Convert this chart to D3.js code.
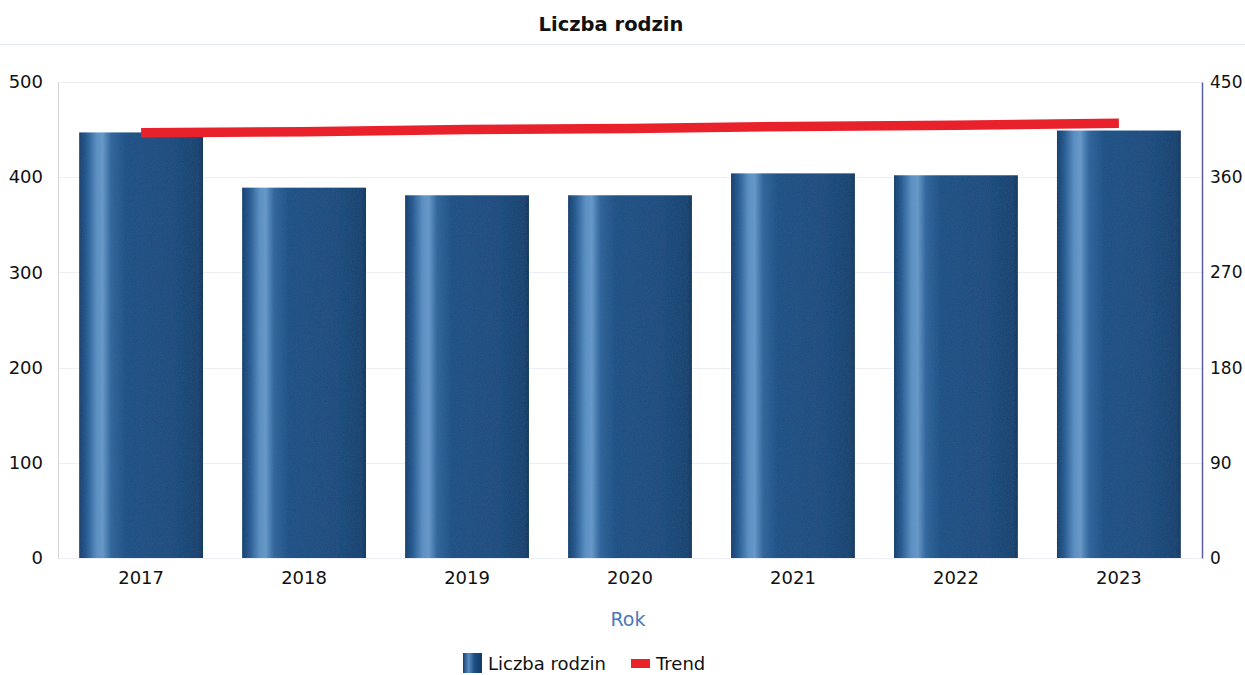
<!DOCTYPE html>
<html><head><meta charset="utf-8">
<script src="https://cdn.jsdelivr.net/npm/d3@7"></script>
<style>
html,body{margin:0;padding:0;background:#fff;overflow:hidden;}
svg{display:block;font-family:"DejaVu Sans",Verdana,sans-serif;}
</style></head>
<body><svg id="c" width="1245" height="675"></svg>
<script>
const years = ["2017","2018","2019","2020","2021","2022","2023"];
const families = [447, 389, 381, 381, 404, 402, 449];
const trend = [402, 403, 405, 406, 408, 409, 411];
const leftTicks = [0, 100, 200, 300, 400, 500];
const rightTicks = [0, 90, 180, 270, 360, 450];
const title = "Liczba rodzin";
const xTitle = "Rok";
const legendNames = ["Liczba rodzin", "Trend"];

const svg = d3.select("#c");
const W = 1245, H = 675;
const m = {l: 58, r: 43, t: 82, b: 117};
const x = d3.scaleBand().domain(years).range([m.l, W - m.r]).paddingInner(0.24).paddingOuter(0.13);
const yL = d3.scaleLinear().domain([0, 500]).range([H - m.b, m.t]);
const yR = d3.scaleLinear().domain([0, 450]).range([H - m.b, m.t]);

const defs = svg.append("defs");
const g = defs.append("linearGradient").attr("id","barGrad").attr("x1","0").attr("x2","1").attr("y1","0").attr("y2","0");
[[0,"#123a6a"],[0.06,"#245a92"],[0.14,"#5f93c6"],[0.19,"#6a9ccd"],[0.26,"#2f659c"],[0.38,"#1c4f85"],[0.75,"#1a4a7d"],[0.96,"#153f6e"],[1,"#0f3058"]]
  .forEach(([o,c]) => g.append("stop").attr("offset", o).attr("stop-color", c));
const lg = defs.append("linearGradient").attr("id","legGrad").attr("x1","0").attr("x2","1");
[[0,"#163f6e"],[0.3,"#5a8ec2"],[0.6,"#1c4f85"],[1,"#133a66"]].forEach(([o,c]) => lg.append("stop").attr("offset",o).attr("stop-color",c));
const f = defs.append("filter").attr("id","noise").attr("x","0").attr("y","0").attr("width","1").attr("height","1");
f.append("feTurbulence").attr("type","fractalNoise").attr("baseFrequency","0.8").attr("numOctaves","2").attr("result","n");
f.append("feColorMatrix").attr("in","n").attr("type","matrix")
 .attr("values","0 0 0 0 0.08  0 0 0 0 0.18  0 0 0 0 0.32  0 0 0 0.22 0").attr("result","nc");
f.append("feComposite").attr("in","nc").attr("in2","SourceGraphic").attr("operator","in").attr("result","nm");
f.append("feMerge").call(s => { s.append("feMergeNode").attr("in","SourceGraphic"); s.append("feMergeNode").attr("in","nm"); });

// title
svg.append("text").attr("x", 611).attr("y", 31).attr("text-anchor","middle")
  .attr("font-size", 19.5).attr("font-weight","bold").attr("fill","#111").text(title);
svg.append("line").attr("x1", 0).attr("x2", W).attr("y1", 44.5).attr("y2", 44.5)
  .attr("stroke", "#e6ebf3").attr("stroke-width", 1.5);

// gridlines
svg.append("g").selectAll("line").data(leftTicks).join("line")
  .attr("x1", m.l).attr("x2", W - m.r)
  .attr("y1", d => Math.round(yL(d)) + 0.5).attr("y2", d => Math.round(yL(d)) + 0.5)
  .attr("stroke", "#eceef3").attr("stroke-width", 1);

// left axis
const axL = svg.append("g").attr("transform", `translate(${m.l},0)`)
  .call(d3.axisLeft(yL).tickValues(leftTicks).tickSize(0).tickPadding(15));
axL.select(".domain").attr("stroke", "#d3d5dc");
axL.selectAll("text").attr("font-size", 18).attr("fill", "#111").attr("font-family","DejaVu Sans");

// right axis
const axR = svg.append("g").attr("transform", `translate(${W - m.r},0)`)
  .call(d3.axisRight(yR).tickValues(rightTicks).tickSize(0).tickPadding(8));
axR.select(".domain").attr("stroke", "#5b5e9e").attr("stroke-width", 1.5);
axR.selectAll("text").attr("font-size", 17).attr("fill", "#111").attr("font-family","DejaVu Sans");

// bars
svg.append("g").selectAll("rect").data(years).join("rect")
  .attr("x", d => x(d)).attr("width", x.bandwidth())
  .attr("y", (d,i) => yL(families[i])).attr("height", (d,i) => yL(0) - yL(families[i]))
  .attr("fill", "url(#barGrad)").attr("filter","url(#noise)");

// trend
const line = d3.line().x((d,i) => x(years[i]) + x.bandwidth()/2).y(d => yR(d));
svg.append("path").datum(trend).attr("d", line).attr("fill","none")
  .attr("stroke", "#e8212b").attr("stroke-width", 9.5);

// x axis
const axX = svg.append("g").attr("transform", `translate(0,${H - m.b})`)
  .call(d3.axisBottom(x).tickSize(0).tickPadding(13));
axX.select(".domain").remove();
axX.selectAll("text").attr("font-size", 18).attr("fill", "#111").attr("font-family","DejaVu Sans");

svg.append("text").attr("x", 628).attr("y", 626).attr("text-anchor","middle")
  .attr("font-size", 19).attr("fill", "#4a78b9").text(xTitle);

// legend
const leg = svg.append("g");
leg.append("rect").attr("x", 463).attr("y", 653).attr("width", 19).attr("height", 20).attr("fill","url(#legGrad)");
leg.append("text").attr("x", 488).attr("y", 670).attr("font-size", 18).attr("fill","#111").text(legendNames[0]);
leg.append("rect").attr("x", 631).attr("y", 659).attr("width", 19).attr("height", 9).attr("fill","#e8212b");
leg.append("text").attr("x", 656).attr("y", 670).attr("font-size", 18).attr("fill","#111").text(legendNames[1]);
</script></body></html>
